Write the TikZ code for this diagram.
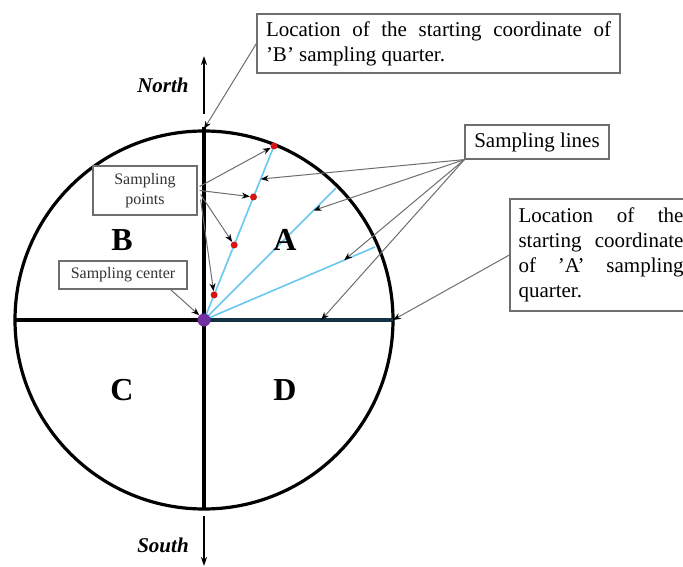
\documentclass[tikz,border=0pt]{standalone}
\usepackage{fontspec}
\setmainfont{Liberation Serif}
\usetikzlibrary{arrows.meta,calc}
\definecolor{quartgray}{RGB}{110,110,110}
\definecolor{lineblue}{RGB}{105,200,240}
\definecolor{centerpurple}{RGB}{112,48,160}
\definecolor{pointred}{RGB}{215,20,20}
\definecolor{axisteal}{RGB}{18,50,68}
\newcommand{\spreadline}[2]{\makebox[#1][s]{#2}}
\tikzset{
    quartbox/.style={draw=quartgray, line width=1.2pt, fill=white,
        inner sep=0pt, align=center},
    quartarrow/.style={-{Stealth[length=8pt,width=6pt,color=black]},
        draw=quartgray, line width=1pt},
    quartline/.style={draw=lineblue, line width=1.6pt},
    quartletter/.style={font=\fontsize{32}{32}\selectfont\bfseries},
    compass/.style={font=\fontsize{21}{21}\selectfont\bfseries\itshape},
    compassarrow/.style={-{Stealth[length=9pt,width=6pt]}, line width=1.8pt},
    bigtext/.style={font=\fontsize{21}{25}\selectfont},
    smalltext/.style={font=\fontsize{16}{20}\selectfont, text=black!80},
    pointdot/.style={circle, fill=pointred, inner sep=0pt, minimum size=7pt}
}
\begin{document}
\begin{tikzpicture}[x=1pt, y=-1pt]
    \clip (0,0) rectangle (683,567);
    \fill[white] (0,0) rectangle (683,567);

    \coordinate (center) at (204,320);
    \coordinate (north) at (204,129);
    \coordinate (east) at (393,320);
    \coordinate (end1) at (274,146);
    \coordinate (end2) at (336,188);
    \coordinate (end3) at (375,247);

    \draw[line width=3.2pt] (center) circle (189);
    \draw[line width=4.5pt] (204,127) -- (204,510);
    \draw[line width=4pt] (14,320) -- (center);
    \draw[quartline] (center) -- (end1);
    \draw[quartline] (center) -- (end2);
    \draw[quartline] (center) -- (end3);
    \draw[line width=4pt, axisteal] (center) -- (east);

    \draw[compassarrow] (204,114) -- (204,56);
    \draw[compassarrow] (204,516) -- (204,566);
    \node[compass] (northlabel) at (163,85) {North};
    \node[compass] (southlabel) at (163,545) {South};

    \node[quartletter] (qa) at (285,240) {A};
    \node[quartletter] (qb) at (122,240) {B};
    \node[quartletter] (qc) at (122,390) {C};
    \node[quartletter] (qd) at (285,390) {D};

    \node[circle, fill=centerpurple, inner sep=0pt, minimum size=13pt]
        (centerdot) at (center) {};
    \node[pointdot] (p1) at (end1) {};
    \node[pointdot] (p2) at ($(center)!0.707!(end1)$) {};
    \node[pointdot] (p3) at ($(center)!0.431!(end1)$) {};
    \node[pointdot] (p4) at ($(center)!0.144!(end1)$) {};

    \node[quartbox, bigtext, minimum width=363, minimum height=59]
        (bquarter) at (438.5,43.5)
        {\spreadline{345pt}{Location of the starting coordinate of}\\
         \makebox[345pt][l]{'B' sampling quarter.}};
    \node[quartbox, bigtext, minimum width=144, minimum height=34]
        (slines) at (537,142) {Sampling lines};
    \node[quartbox, bigtext, minimum width=182, minimum height=112]
        (aquarter) at (601,255)
        {\spreadline{165pt}{Location of the}\\
         \spreadline{165pt}{starting coordinate}\\
         \spreadline{165pt}{of 'A' sampling}\\
         \makebox[165pt][l]{quarter.}};
    \node[quartbox, smalltext, minimum width=104, minimum height=49]
        (spoints) at (145,190.5) {Sampling\\points};
    \node[quartbox, smalltext, minimum width=128, minimum height=28]
        (scenter) at (123,275) {Sampling center};

    \draw[quartarrow] (bquarter.west) -- (north);
    \draw[quartarrow] (aquarter.west) -- (east);
    \draw[quartarrow] ($(scenter.south east)+(-17,0)$) -- (centerdot.north west);
    \draw[quartarrow] ($(spoints.east)+(2,-4)$) -- (p1);
    \draw[quartarrow] ($(spoints.east)+(2,0)$) -- (p2);
    \draw[quartarrow] ($(spoints.east)+(3,4)$) -- (p3);
    \draw[quartarrow] ($(spoints.east)+(3,9)$) -- (p4);
    \draw[quartarrow] (slines.south west) -- ($(center)!0.81!(end1)$);
    \draw[quartarrow] (slines.south west) -- ($(center)!0.83!(end2)$);
    \draw[quartarrow] (slines.south west) -- ($(center)!0.82!(end3)$);
    \draw[quartarrow] (slines.south west) -- ($(center)!0.62!(east)$);
\end{tikzpicture}
\end{document}
